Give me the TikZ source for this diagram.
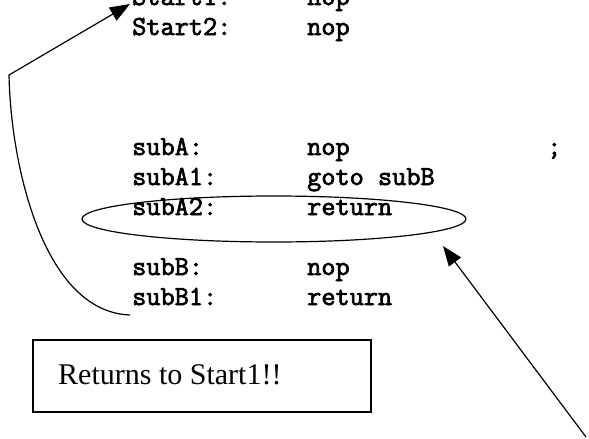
\documentclass[tikz,border=0pt]{standalone}
\usepackage{fontspec}
\setmainfont{Liberation Serif}
\newfontfamily\codefont{Latin Modern Mono}[FakeBold=2.5]
\usetikzlibrary{arrows.meta,shapes.geometric}
\begin{document}
\begin{tikzpicture}[x=1pt,y=-1pt,
  code/.style={anchor=base west,inner sep=0pt,font=\codefont\bfseries\fontsize{27.5}{30}\selectfont},
  conn/.style={line width=1.2pt},
  tip/.style={-{Triangle[length=20pt,width=15pt]}}]
\useasboundingbox (0,0) rectangle (589,439);
% code lines
\node[code] (l1) at (132,5) {Start1:};
\node[code] (r1) at (307,5) {nop};
\node[code] (l2) at (132,35) {Start2:};
\node[code] (r2) at (307,35) {nop};
\node[code] (l3) at (132,155) {subA:};
\node[code] (r3) at (307,155) {nop};
\node[code] (s3) at (547,155) {;};
\node[code] (l4) at (132,185) {subA1:};
\node[code] (r4) at (307,185) {goto subB};
\node[code] (l5) at (132,215) {subA2:};
\node[code] (r5) at (307,215) {return};
\node[code] (l6) at (132,275) {subB:};
\node[code] (r6) at (307,275) {nop};
\node[code] (l7) at (132,305) {subB1:};
\node[code] (r7) at (307,305) {return};
% ellipse
\draw[conn] (274,219) ellipse [x radius=192, y radius=23];
\coordinate (ellpt) at (443,246);
% box
\node[draw,line width=1.2pt,minimum width=338pt,minimum height=72pt,inner sep=0pt] (box) at (202,376) {};
\node[anchor=base west,inner sep=0pt,font=\fontsize{30}{36}\selectfont] (boxtext) at (58,384) {Returns to Start1!!};
% connectors
\coordinate (cstart) at (130,315);
\coordinate (corner) at (9,75);
\coordinate (s1tip) at (130,4);
\draw[conn,tip] (cstart) .. controls (45,312) and (11,170) .. (corner) -- (s1tip);
\coordinate (free) at (586,437);
\draw[conn,tip] (free) -- (ellpt);
\end{tikzpicture}
\end{document}
